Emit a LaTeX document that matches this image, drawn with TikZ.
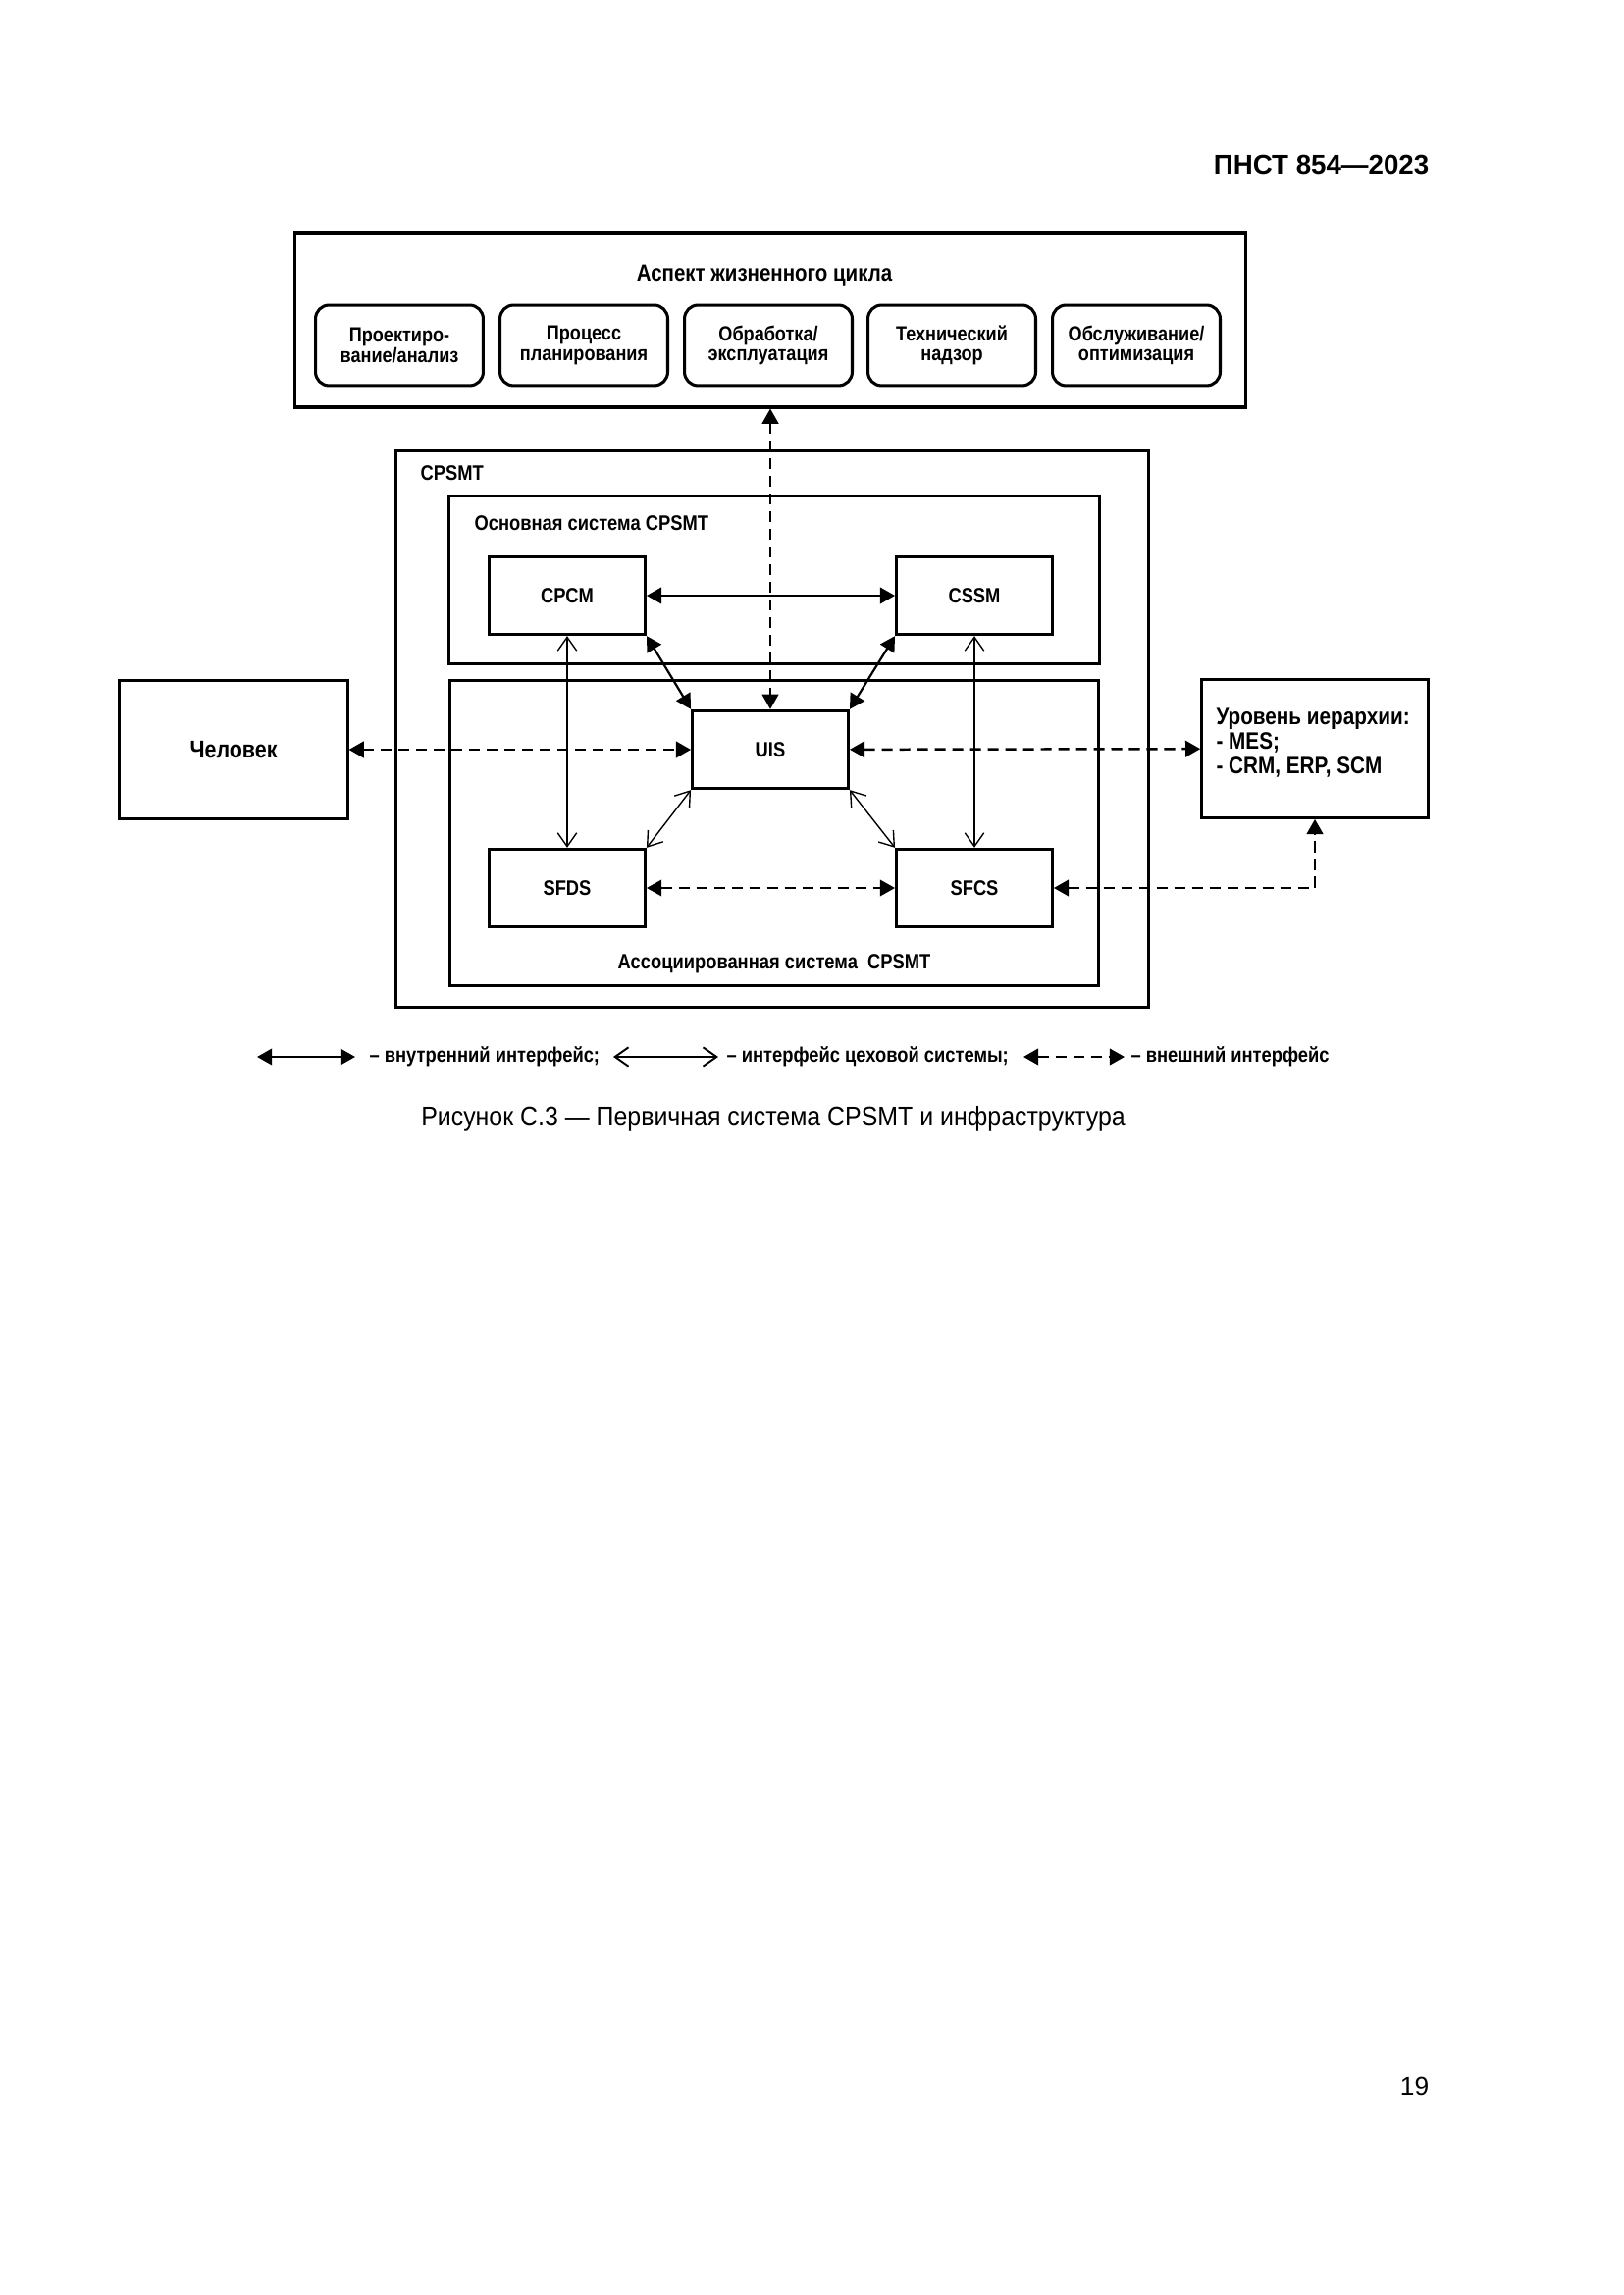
\documentclass[tikz,border=0pt]{standalone}
\usepackage{fontspec}
\setmainfont{Liberation Sans}
\newfontfamily\diagfont{Liberation Sans}[FakeStretch=0.86]
\newfontfamily\capfont{Liberation Sans}[FakeStretch=0.9]
\usetikzlibrary{arrows.meta}

\begin{document}
\begin{tikzpicture}[
        x=0.012697cm, y=-0.012697cm,
        container/.style={draw, rectangle, line width=1.1pt},
        box/.style={draw, rectangle, line width=1pt, minimum width=2.02cm, minimum height=1.01cm, font=\diagfont\bfseries\fontsize{7.7}{9}\selectfont},
        stagebox/.style={draw, rectangle, rounded corners=5pt, line width=1.1pt, minimum width=2.17cm, minimum height=1.04cm, align=center, font=\diagfont\bfseries\fontsize{7.6}{7.4}\selectfont},
        lbl/.style={font=\diagfont\bfseries\fontsize{7.7}{9}\selectfont, inner sep=0pt},
        intlink/.style={line width=0.8pt, {Triangle[length=5.5pt,width=6pt]}-{Triangle[length=5.5pt,width=6pt]}},
        shoplink/.style={line width=0.5pt, {Straight Barb[length=5pt,width=7pt]}-{Straight Barb[length=5pt,width=7pt]}},
        extlink/.style={line width=0.9pt, dash pattern=on 4pt off 2.5pt, {Triangle[length=5.5pt,width=6pt]}-{Triangle[length=5.5pt,width=6pt]}}
    ]
        \useasboundingbox (0,0) rectangle (1654,2339);

        % Header
        \node[font=\bfseries\fontsize{10}{12}\selectfont, anchor=east] (header) at (1466,168) {ПНСТ 854—2023};

        % Life cycle aspect
        \node[container, minimum width=12.29cm, minimum height=2.26cm] (lifecycle) at (785,326) {};
        \node[lbl, font=\diagfont\bfseries\fontsize{8.6}{10}\selectfont] (lifecycleTitle) at (779,281) {Аспект жизненного цикла};
        \node[stagebox] (design) at (407,352) {Проектиро-\\вание/анализ};
        \node[stagebox] (planning) at (595,352) {Процесс\\планирования};
        \node[stagebox] (operation) at (783,352) {Обработка/\\эксплуатация};
        \node[stagebox] (supervision) at (970,352) {Технический\\надзор};
        \node[stagebox] (maintenance) at (1158,352) {Обслуживание/\\оптимизация};

        % CPSMT and its two systems
        \node[container, minimum width=9.74cm, minimum height=7.21cm] (cpsmt) at (787,743) {};
        \node[lbl, anchor=west] (cpsmtLabel) at (428,482) {CPSMT};
        \node[container, minimum width=8.41cm, minimum height=2.16cm] (core) at (789,591) {};
        \node[lbl, anchor=west] (coreLabel) at (483,533) {Основная система CPSMT};
        \node[container, minimum width=8.39cm, minimum height=3.96cm] (assoc) at (789,849) {};
        \node[lbl] (assocLabel) at (789,982) {Ассоциированная система \ CPSMT};

        % Modules
        \node[box] (cpcm) at (578,607) {CPCM};
        \node[box] (cssm) at (993,607) {CSSM};
        \node[box] (uis) at (785,764) {UIS};
        \node[box] (sfds) at (578,905) {SFDS};
        \node[box] (sfcs) at (993,905) {SFCS};

        % Outside
        \node[box, minimum width=2.95cm, minimum height=1.79cm, font=\diagfont\bfseries\fontsize{9}{11}\selectfont] (human) at (238,764) {Человек};
        \node[box, minimum width=2.93cm, minimum height=1.79cm] (hier) at (1340,763) {};
        \node[lbl, anchor=west, align=left, font=\diagfont\bfseries\fontsize{8.7}{9}\selectfont] (hierText) at (1239,757) {Уровень иерархии:\\- MES;\\- CRM, ERP, SCM};

        % Internal interfaces
        \draw[intlink] (cpcm) -- (cssm);
        \draw[intlink] (cpcm.south east) -- (uis.north west);
        \draw[intlink] (cssm.south west) -- (uis.north east);

        % Shop floor interfaces
        \draw[shoplink] (cpcm) -- (sfds);
        \draw[shoplink] (cssm) -- (sfcs);
        \draw[shoplink] (uis.south west) -- (sfds.north east);
        \draw[shoplink] (uis.south east) -- (sfcs.north west);

        % External interfaces
        \draw[extlink] (lifecycle) -- (uis);
        \draw[extlink] (human) -- (uis);
        \draw[extlink] (uis) -- (hier);
        \draw[extlink, line width=0.6pt] (sfds) -- (sfcs);
        \draw[extlink] (sfcs.east) -| (hier.south);

        % Legend
        \coordinate (intA) at (262,1077);
        \coordinate (intB) at (362,1077);
        \draw[intlink] (intA) -- (intB);
        \node[lbl, anchor=west] (intText) at (376,1077) {– внутренний интерфейс;};
        \coordinate (shopA) at (625,1077);
        \coordinate (shopB) at (732,1077);
        \draw[shoplink, line width=0.7pt] (shopA) -- (shopB);
        \node[lbl, anchor=west] (shopText) at (740,1077) {– интерфейс цеховой системы;};
        \coordinate (extA) at (1043,1077);
        \coordinate (extB) at (1146,1077);
        \draw[extlink] (extA) -- (extB);
        \node[lbl, anchor=west] (extText) at (1152,1077) {– внешний интерфейс};

        % Caption and page number
        \node[font=\capfont\fontsize{10}{12}\selectfont] (caption) at (788,1140) {Рисунок С.3 — Первичная система CPSMT и инфраструктура};
        \node[font=\fontsize{9.5}{12}\selectfont, anchor=east] (pageNum) at (1466,2126) {19};

    \end{tikzpicture}
\end{document}
